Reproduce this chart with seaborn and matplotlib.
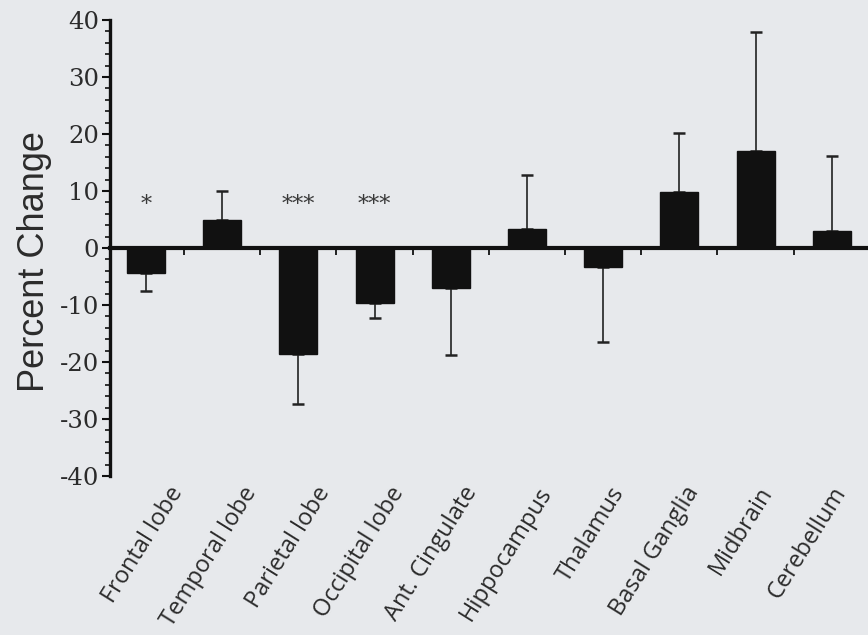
import matplotlib
matplotlib.use("Agg")
import matplotlib.pyplot as plt
import matplotlib.transforms as mtransforms
from matplotlib.ticker import MultipleLocator
import numpy as np
import pandas as pd
import seaborn as sns

# Regional percent change (mean) with one-sided SD error bars
regions = ["Frontal lobe", "Temporal lobe", "Parietal lobe", "Occipital lobe",
           "Ant. Cingulate", "Hippocampus", "Thalamus", "Basal Ganglia",
           "Midbrain", "Cerebellum"]
pct_change = [-4.4, 4.9, -18.6, -9.6, -7.0, 3.3, -3.3, 9.8, 17.0, 3.0]
pct_sd = [3.1, 5.1, 8.8, 2.7, 11.8, 9.5, 13.2, 10.4, 20.9, 13.1]
significance = ["*", "", "***", "***", "", "", "", "", "", ""]
yticks = [40, 30, 20, 10, 0, -10, -20, -30, -40]

sns.set_style("ticks")
plt.rcParams["font.family"] = ["DejaVu Sans"]

bg = "#e7e9ec"
ink = "#111111"
text_col = "#2b2b2b"

df = pd.DataFrame({"region": regions, "pct": pct_change, "sd": pct_sd})

fig = plt.figure(figsize=(8.68, 6.35), dpi=100, facecolor=bg)
ax = fig.add_axes([110 / 868, (635 - 476) / 635, (868 - 110) / 868, (476 - 20) / 635])
ax.set_facecolor(bg)

sns.barplot(data=df, x="region", y="pct", order=regions, color=ink,
            width=0.5, errorbar=None, saturation=1, edgecolor=ink, ax=ax)
for p in ax.patches:
    p.set_zorder(3)

# error bars point away from zero
x = np.arange(len(regions))
vals = np.array(pct_change)
sds = np.array(pct_sd)
lower = np.where(vals < 0, sds, 0)
upper = np.where(vals > 0, sds, 0)
ax.errorbar(x, vals, yerr=[lower, upper], fmt="none", ecolor="#222222",
            elinewidth=1.2, capsize=4, capthick=1.8, zorder=2)

# significance markers
for i, s in enumerate(significance):
    if s:
        ax.text(i, 7.6, s, ha="center", va="center", fontsize=16,
                family="DejaVu Serif", color="#3a3a3a")

ax.set_xlim(-0.472, 9.475)
ax.set_ylim(-40, 40)

# y axis
ax.set_yticks(yticks)
ax.set_yticklabels([str(t) for t in yticks], family="DejaVu Serif",
                   fontsize=17.5, color=text_col)
ax.yaxis.set_minor_locator(MultipleLocator(2))
ax.tick_params(axis="y", which="major", length=6, width=1.5, color=ink, pad=2)
ax.tick_params(axis="y", which="minor", length=3.5, width=1.2, color=ink)
ax.spines["left"].set_linewidth(2.4)
ax.spines["left"].set_color(ink)
ax.spines["left"].set_bounds(-40, 40)

# x axis drawn at zero with ticks between categories
ax.spines["bottom"].set_position(("data", 0))
ax.spines["bottom"].set_linewidth(3)
ax.spines["bottom"].set_color(ink)
ax.spines["bottom"].set_zorder(4)
ax.spines["top"].set_visible(False)
ax.spines["right"].set_visible(False)
ax.set_xticks(np.arange(len(regions) - 1) + 0.5)
ax.set_xticklabels([])
ax.tick_params(axis="x", which="major", length=5, width=1.3, color=ink, direction="out")
ax.set_xlabel("")

ax.set_ylabel("Percent Change", fontsize=26, family="Liberation Sans", color=text_col)
ax.yaxis.set_label_coords(-0.076, 0.47)

# rotated region names below the plot, packed slightly tighter than the bars
trans = mtransforms.blended_transform_factory(ax.transData, ax.transAxes)
label_x = np.linspace(0.42, 9.12, len(regions))
for lx, name in zip(label_x, regions):
    ax.text(lx, -0.028, name, rotation=58, ha="right", va="center",
            rotation_mode="anchor", fontsize=17, family="Open Sans",
            color=text_col, transform=trans)

fig.savefig("out.png", dpi=100, facecolor=bg)
